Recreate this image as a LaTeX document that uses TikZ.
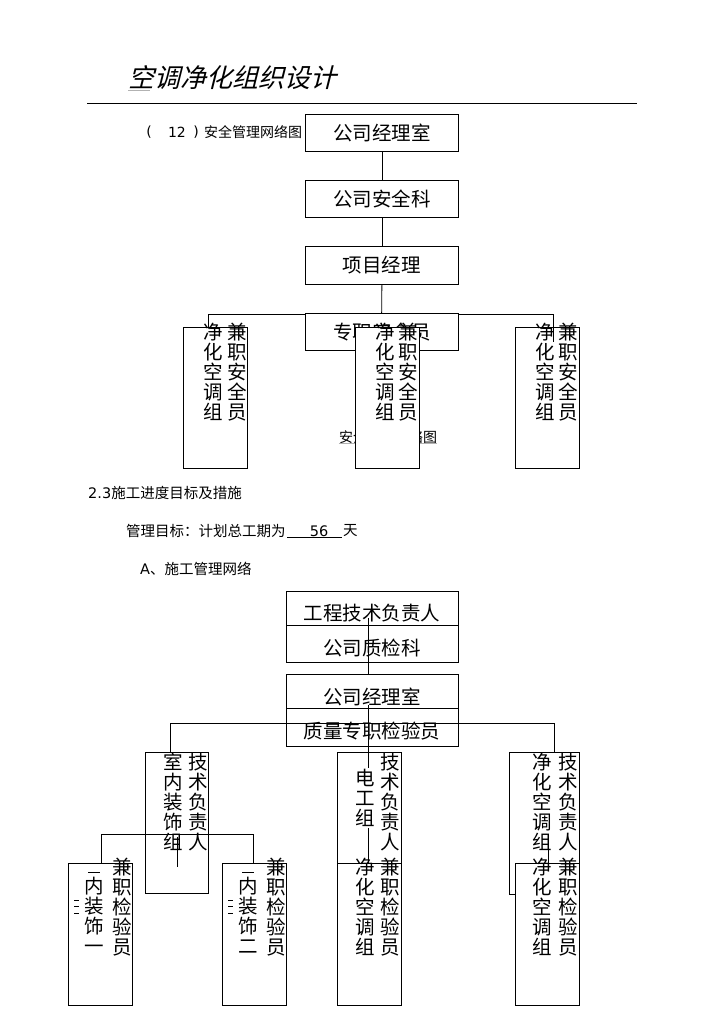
\documentclass[tikz,border=0pt]{standalone}
\usepackage{fontspec}
\setmainfont{DejaVu Sans}
\newfontfamily\cjk{Noto Sans CJK SC}
\newfontfamily\cjkslant[FakeSlant=0.25]{Noto Sans CJK SC}
\newfontfamily\lat{DejaVu Sans}
\begin{document}
\begin{tikzpicture}[x=1pt,y=-1pt,
  box/.style={draw, line width=0.8pt, fill=white, inner sep=0, anchor=north west},
  lbl/.style={font=\cjk\fontsize{19.5}{20}\selectfont, inner sep=0},
  col/.style={font=\cjk\fontsize{19.5}{20}\selectfont, align=center, inner sep=0},
  txt/.style={font=\cjk\fontsize{14.5}{16}\selectfont, inner sep=0, anchor=west},
  ln/.style={line width=0.8pt},
  frag/.style={line width=0.7pt}]
\fill[white] (0,0) rectangle (724,1024);
\useasboundingbox (0,0) rectangle (724,1024);

% ---------- header ----------
\node[font=\cjkslant\fontsize{26}{28}\selectfont, anchor=west, inner sep=0] (title) at (128,78) {空调净化组织设计};
\coordinate (u1) at (128,90); \coordinate (u2) at (150,90);
\draw[gray!60, line width=0.5pt] (u1) -- (u2);
\coordinate (r1) at (87,103); \coordinate (r2) at (637,103);
\draw[ln] (r1) -- (r2);

\node[font=\lat\fontsize{14}{16}\selectfont, inner sep=0] (p1) at (149,132) {(};
\node[font=\lat\fontsize{14}{16}\selectfont, inner sep=0] (p2) at (177,132) {12};
\node[font=\lat\fontsize{14}{16}\selectfont, inner sep=0] (p3) at (196,132) {)};
\node[txt, font=\cjk\fontsize{14}{16}\selectfont] (p4) at (204,132) {安全管理网络图};

% ---------- safety network ----------
\node[box, lbl, minimum width=153pt, minimum height=37pt] (b1) at (305,114) {};
\node[lbl] (b1t) at (b1.center) {公司经理室};
\node[box, lbl, minimum width=153pt, minimum height=37pt] (b2) at (305,180) {};
\node[lbl] (b2t) at (b2.center) {公司安全科};
\node[box, lbl, minimum width=153pt, minimum height=38pt] (b3) at (305,246) {};
\node[lbl] (b3t) at (b3.center) {项目经理};

\coordinate (hL) at (208,314); \coordinate (hR) at (553,314);
\coordinate (hM) at (381.5,327);
\draw[ln] (b1.south) -- (b2.north);
\draw[ln] (b2.south) -- (b3.north);
\draw[ln] (b3.south) -- (hM);
\draw[ln] (hL) -- (hR);

\node[box, minimum width=153pt, minimum height=37pt] (b4) at (305,313) {};
\node[lbl] (b4t) at (b4.center) {专职安全员};

\node[font=\cjk\fontsize{14}{16}\selectfont, inner sep=0] (cap) at (388,437) {安全管理网络图};
\draw[gray!60, line width=0.5pt] (cap.south west) -- (cap.south east);

\node[box, minimum width=64pt, minimum height=141pt] (t1) at (183,327) {};
\node[box, minimum width=64pt, minimum height=141pt] (t2) at (355,327) {};
\node[box, minimum width=64pt, minimum height=141pt] (t3) at (515,327) {};
\node[col] (t1a) at (213,372) {净\\化\\空\\调\\组};
\node[col] (t1b) at (237,372) {兼\\职\\安\\全\\员};
\node[col] (t2a) at (385,372) {净\\化\\空\\调\\组};
\node[col] (t2b) at (408,372) {兼\\职\\安\\全\\员};
\node[col] (t3a) at (545,372) {净\\化\\空\\调\\组};
\node[col] (t3b) at (568,372) {兼\\职\\安\\全\\员};
\coordinate (hR2) at (553,342);
\draw[ln] (hL) -- (hL |- t1.north);
\draw[ln] (hR) -- (hR2);

% ---------- section text ----------
\node[txt] (s1) at (88,493) {{\lat 2.3}施工进度目标及措施};
\node[txt] (s2) at (126,531) {管理目标：计划总工期为};
\node[font=\lat\fontsize{14.5}{16}\selectfont, inner sep=0] (s3) at (319,531) {56};
\coordinate (ul1) at (287,537); \coordinate (ul2) at (342,537);
\draw[line width=0.6pt] (ul1) -- (ul2);
\node[txt] (s4) at (343,531) {天};
\node[txt] (s5) at (140,569) {{\lat A}、施工管理网络};

% ---------- construction network ----------
\node[box, minimum width=172pt, minimum height=34pt] (c1) at (286,591) {};
\node[lbl] (c1t) at (372,613) {工程技术负责人};
\node[box, minimum width=172pt, minimum height=37pt] (c2) at (286,625) {};
\node[lbl] (c2t) at (372,648) {公司质检科};
\node[box, minimum width=172pt, minimum height=34pt] (c3) at (286,674) {};
\node[lbl] (c3t) at (372,697) {公司经理室};
\node[box, minimum width=172pt, minimum height=38pt] (c4) at (286,708) {};
\node[lbl] (c4t) at (372,731) {质量专职检验员};

\coordinate (v1a) at (368,618); \coordinate (v1b) at (368,674);
\draw[ln] (v1a) -- (v1b);
\coordinate (gL) at (170,723); \coordinate (gR) at (554,723);
\draw[ln] (gL) -- (gR);

% second row boxes
\node[box, minimum width=63pt, minimum height=141pt] (d1) at (145,752) {};
\node[col] (d1a) at (173,802) {室\\内\\装\\饰\\组};
\node[col] (d1b) at (198,802) {技\\术\\负\\责\\人};

\node[box, minimum width=64pt, minimum height=141pt] (f1) at (337,752) {};
\node[col] (f1a) at (365,798) {电\\工\\组};
\node[col] (f1b) at (390,802) {技\\术\\负\\责\\人};

\node[box, minimum width=70pt, minimum height=142pt] (g1) at (509,752) {};
\node[col] (g1a) at (542,802) {净\\化\\空\\调\\组};
\node[col] (g1b) at (568,802) {技\\术\\负\\责\\人};

% third row boxes
\node[box, minimum width=64pt, minimum height=142pt] (e1) at (68,863) {};
\node[col] (e1a) at (94,915) {内\\装\\饰\\一};
\node[col] (e1b) at (122,907) {兼\\职\\检\\验\\员};
\node[box, minimum width=64pt, minimum height=142pt] (e2) at (222,863) {};
\node[col] (e2a) at (248,915) {内\\装\\饰\\二};
\node[col] (e2b) at (276,907) {兼\\职\\检\\验\\员};
\node[box, minimum width=64pt, minimum height=142pt] (f2) at (337,863) {};
\node[col] (f2a) at (365,907) {净\\化\\空\\调\\组};
\node[col] (f2b) at (390,907) {兼\\职\\检\\验\\员};
\node[box, minimum width=64pt, minimum height=142pt] (g2) at (515,863) {};
\node[col] (g2a) at (542,907) {净\\化\\空\\调\\组};
\node[col] (g2b) at (568,907) {兼\\职\\检\\验\\员};

% clipped fragments
\foreach \yy in {900,906.5,913} {
  \draw[frag] (74,\yy) -- (79,\yy);
  \draw[frag] (228,\yy) -- (233,\yy);
}
\draw[frag] (88,872) -- (100,872);
\draw[frag] (242,872) -- (254,872);

% connectors on top
\draw[ln] (gL) -- (gL |- d1.north);
\draw[ln] (gR) -- (gR |- g1.north);
\coordinate (v2a) at (368,705); \coordinate (v2b) at (368,768);
\coordinate (v3a) at (368,828); \coordinate (v3b) at (368,863);
\draw[ln] (v2a) -- (v2b);
\draw[ln] (v3a) -- (v3b);
\coordinate (k1) at (177,837); \coordinate (k2) at (177,867);
\draw[ln] (k1) -- (k2);
\coordinate (hl) at (101,834); \coordinate (hr) at (253,834);
\draw[ln] (hl) -- (hr);
\draw[ln] (hl) -- (hl |- e1.north);
\draw[ln] (hr) -- (hr |- e2.north);
\coordinate (m1) at (548,847);
\draw[ln] (m1) -- (m1 |- g2.north);
\end{tikzpicture}
\end{document}
